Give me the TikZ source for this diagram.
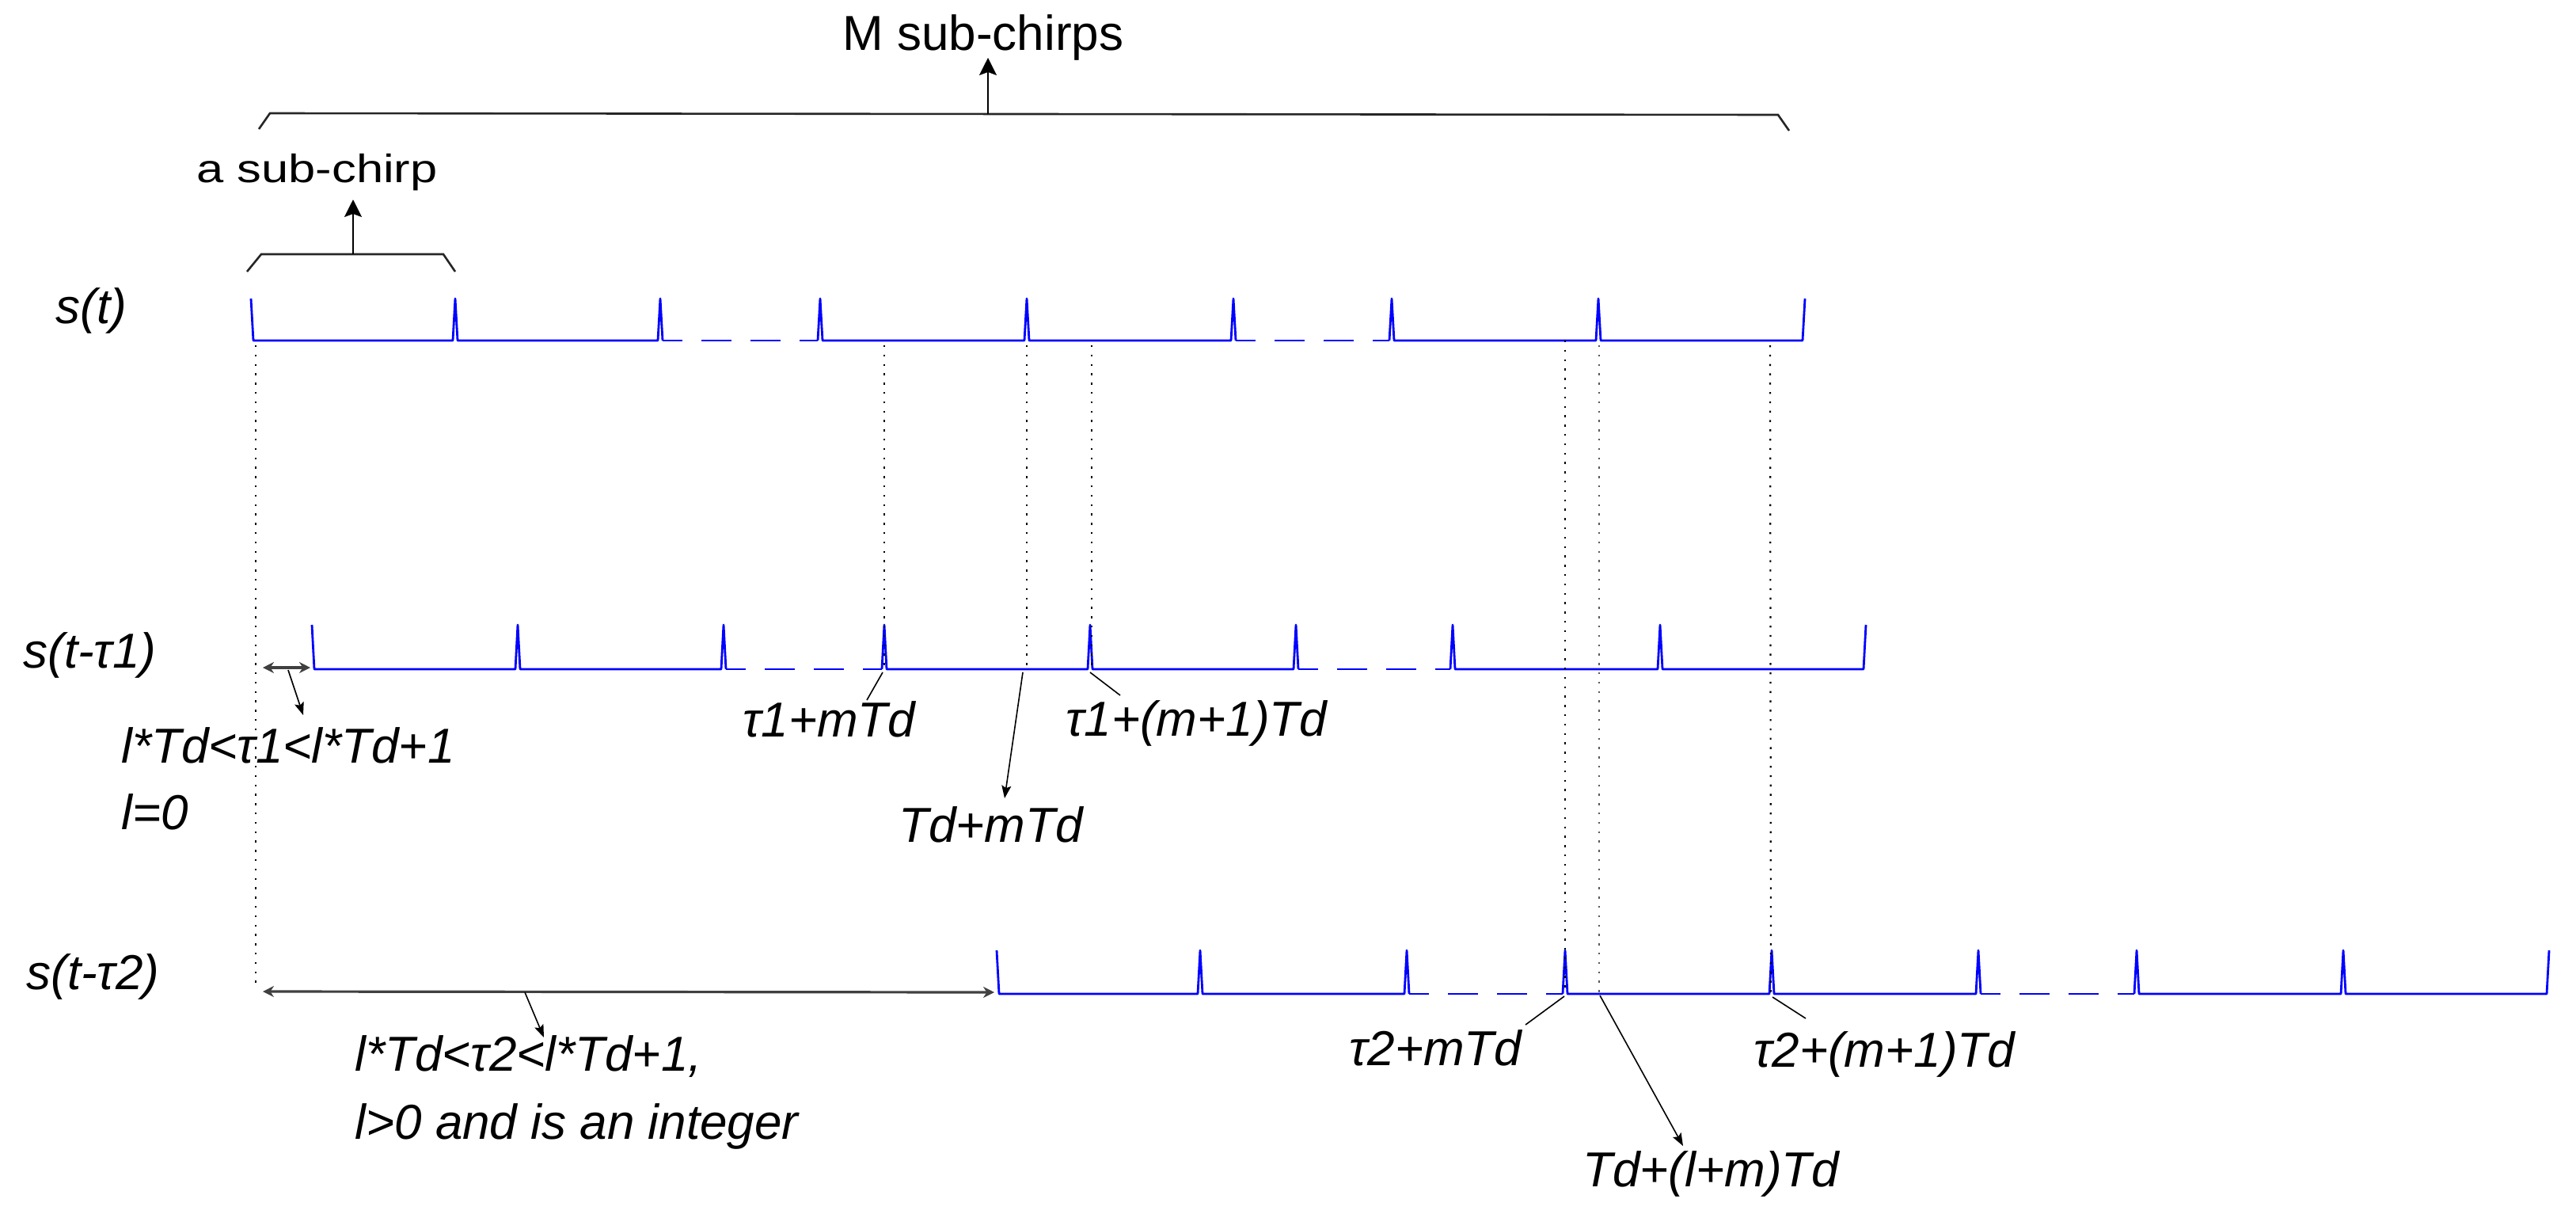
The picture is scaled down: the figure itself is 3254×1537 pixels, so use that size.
\documentclass[tikz,border=0pt]{standalone}
\usepackage{fontspec}
\usepackage{graphicx}
\setmainfont{Liberation Sans}
\usetikzlibrary{arrows.meta}
\tikzset{
 sig/.style={blue, line width=1.4pt, line join=round},
 sigdash/.style={sig, dash pattern=on 19pt off 12pt, dash phase=6.5pt},
 guide/.style={black, line width=1.1pt, dash pattern=on 1.2pt off 4.7pt},
 bracket/.style={black!85, line width=1.3pt},
 uparrow/.style={black, line width=1.1pt, -{Stealth[length=11pt,width=11pt,inset=2pt]}},
 pointer/.style={black, line width=0.8pt, -{Stealth[length=8pt,width=6pt,inset=1.5pt]}},
 leader/.style={black, line width=0.8pt},
 span/.style={black!75, line width=1.6pt, {Stealth[length=7pt,width=7pt]}-{Stealth[length=7pt,width=7pt]}},
 mlab/.style={inner sep=0pt, anchor=base west, font=\fontsize{31}{37}\selectfont\itshape},
 tlab/.style={inner sep=0pt, anchor=base west, font=\fontsize{31}{37}\selectfont},
}
\begin{document}
\begin{tikzpicture}[x=0.5pt,y=-0.5pt]
\useasboundingbox (0,0) rectangle (3254,1537);

% ---------- row 1 : s(t) ----------
\draw[sig] (317,377) -- (320,430) -- (572,430) -- (575,377) -- (578,430) -- (831,430) -- (834,377) -- (837,430);
\draw[sigdash] (837,430) -- (1033,430);
\draw[sig] (1033,430) -- (1036,377) -- (1039,430) -- (1294,430) -- (1297,377) -- (1300,430) -- (1555,430) -- (1558,377) -- (1561,430);
\draw[sigdash] (1561,430) -- (1755,430);
\draw[sig] (1755,430) -- (1758,377) -- (1761,430) -- (2016,430) -- (2019,377) -- (2022,430) -- (2277,430) -- (2280,377);

% ---------- row 2 : s(t-tau1) ----------
\draw[sig] (394,789) -- (397,845) -- (651,845) -- (654,789) -- (657,845) -- (911,845) -- (914,789) -- (917,845);
\draw[sigdash] (917,845) -- (1114,845);
\draw[sig] (1114,845) -- (1117,789) -- (1120,845) -- (1374,845) -- (1377,789) -- (1380,845) -- (1634,845) -- (1637,789) -- (1640,845);
\draw[sigdash] (1640,845) -- (1832,845);
\draw[sig] (1832,845) -- (1835,789) -- (1838,845) -- (2094,845) -- (2097,789) -- (2100,845) -- (2354,845) -- (2357,789);

% ---------- row 3 : s(t-tau2) ----------
\draw[sig] (1259,1200) -- (1262,1255) -- (1513,1255) -- (1516,1200) -- (1519,1255) -- (1774,1255) -- (1777,1200) -- (1780,1255);
\draw[sigdash] (1780,1255) -- (1974,1255);
\draw[sig] (1974,1255) -- (1977,1200) -- (1980,1255) -- (2235,1255) -- (2238,1200) -- (2241,1255) -- (2496,1255) -- (2499,1200) -- (2502,1255);
\draw[sigdash] (2502,1255) -- (2696,1255);
\draw[sig] (2696,1255) -- (2699,1200) -- (2702,1255) -- (2957,1255) -- (2960,1200) -- (2963,1255) -- (3217,1255) -- (3220,1200);

% ---------- named points ----------
\coordinate (g0a) at (323,436);   \coordinate (g0b) at (323,1247);
\coordinate (g1a) at (1117,436);  \coordinate (g1b) at (1117,845);
\coordinate (g2a) at (1297,436);  \coordinate (g2b) at (1297,840);
\coordinate (g3a) at (1379,436);  \coordinate (g3b) at (1379,845);
\coordinate (g4a) at (1977,430);  \coordinate (g4b) at (1977,1255);
\coordinate (g5a) at (2020,436);  \coordinate (g5b) at (2020,1255);
\coordinate (g6a) at (2236,436);  \coordinate (g6b) at (2237,1255);

% ---------- dotted guides ----------
\draw[guide] (g0a) -- (g0b);
\draw[guide] (g1a) -- (g1b);
\draw[guide] (g2a) -- (g2b);
\draw[guide] (g3a) -- (g3b);
\draw[guide] (g4a) -- (g4b);
\draw[guide, black!65] (g5a) -- (g5b);
\draw[guide] (g6a) -- (g6b);

% ---------- braces ----------
\coordinate (bigL) at (327,163);  \coordinate (bigLc) at (341,143);
\coordinate (bigRc) at (2246,145); \coordinate (bigR) at (2260,165);
\coordinate (bigM) at (1248,144);
\draw[bracket] (bigL) -- (bigLc) -- (bigRc) -- (bigR);
\node[tlab] (mlabel) at (1064,63) {M sub-chirps};
\coordinate (bigTip) at (1248,73);
\draw[uparrow] (bigM) -- (bigTip);

\coordinate (smL) at (312,343);  \coordinate (smLc) at (330,321);
\coordinate (smRc) at (560,321); \coordinate (smR) at (575,343);
\coordinate (smM) at (446,321);
\draw[bracket] (smL) -- (smLc) -- (smRc) -- (smR);
\node[inner sep=0pt, anchor=base west, font=\fontsize{25}{30}\selectfont] (alabel) at (248,230) {\scalebox{1.23}[1]{a sub-chirp}};
\coordinate (smTip) at (446,252);
\draw[uparrow] (smM) -- (smTip);

% ---------- row labels ----------
\node[mlab] (st) at (70,408) {s(t)};
\node[mlab] (st1) at (29,843) {s(t-τ1)};
\node[mlab] (st2) at (33,1249) {s(t-τ2)};

% ---------- row 2 annotations ----------
\coordinate (sp1a) at (332,843); \coordinate (sp1b) at (392,843);
\draw[span] (sp1a) -- (sp1b);
\coordinate (p1a) at (364,846); \coordinate (p1b) at (383,903);
\draw[pointer] (p1a) -- (p1b);
\node[mlab] (cond1) at (153,963) {l*Td<τ1<l*Td+1};
\node[mlab] (lzero) at (153,1047) {l=0};

\node[mlab] (t1m) at (938,930) {τ1+mTd};
\coordinate (l1a) at (1115,849); \coordinate (l1b) at (1095,884);
\draw[leader] (l1a) -- (l1b);
\node[mlab] (t1m1) at (1346,929) {τ1+(m+1)Td};
\coordinate (l2a) at (1377,849); \coordinate (l2b) at (1415,878);
\draw[leader] (l2a) -- (l2b);
\node[mlab] (tdm) at (1135,1063) {Td+mTd};
\coordinate (a1a) at (1292,849); \coordinate (a1b) at (1269,1008);
\draw[pointer] (a1a) -- (a1b);

% ---------- row 3 annotations ----------
\coordinate (sp2a) at (332,1252); \coordinate (sp2b) at (1256,1253);
\draw[span] (sp2a) -- (sp2b);
\coordinate (p2a) at (663,1253); \coordinate (p2b) at (687,1310);
\draw[pointer] (p2a) -- (p2b);
\node[mlab] (cond2) at (448,1352) {l*Td<τ2<l*Td+1,};
\node[mlab] (lpos) at (448,1438) {l>0 and is an integer};

\node[mlab] (t2m) at (1704,1345) {τ2+mTd};
\coordinate (l3a) at (1976,1258); \coordinate (l3b) at (1927,1294);
\draw[leader] (l3a) -- (l3b);
\node[mlab] (t2m1) at (2215,1347) {τ2+(m+1)Td};
\coordinate (l4a) at (2239,1259); \coordinate (l4b) at (2281,1286);
\draw[leader] (l4a) -- (l4b);
\node[mlab] (tdlm) at (1999,1498) {Td+(l+m)Td};
\coordinate (a2a) at (2021,1257); \coordinate (a2b) at (2126,1447);
\draw[pointer] (a2a) -- (a2b);
\end{tikzpicture}
\end{document}
